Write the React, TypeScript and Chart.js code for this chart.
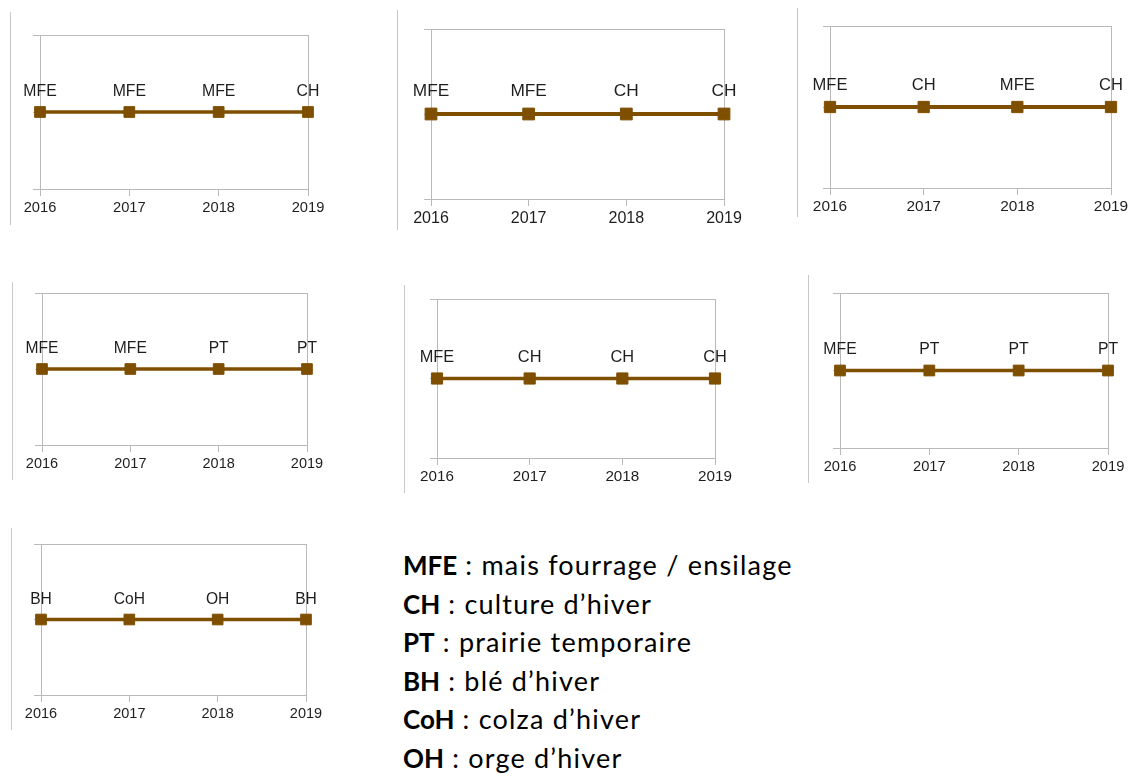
import React, { useEffect, useRef } from 'react';
import { Chart, registerables } from 'chart.js';

Chart.register(...registerables);

// ---------- data ----------
const YEARS = ['2016', '2017', '2018', '2019'];
const LEVEL = [1, 1, 1, 1];
const Y_MIN = 0;
const Y_MAX = 2;

const CROPS_A = ['MFE', 'MFE', 'MFE', 'CH'];
const CROPS_B = ['MFE', 'MFE', 'CH', 'CH'];
const CROPS_C = ['MFE', 'CH', 'MFE', 'CH'];
const CROPS_D = ['MFE', 'MFE', 'PT', 'PT'];
const CROPS_E = ['MFE', 'CH', 'CH', 'CH'];
const CROPS_F = ['MFE', 'PT', 'PT', 'PT'];
const CROPS_G = ['BH', 'CoH', 'OH', 'BH'];

const LEGEND_CODES = ['MFE', 'CH', 'PT', 'BH', 'CoH', 'OH'];
const LEGEND_NAMES = [
  'mais fourrage / ensilage',
  'culture d’hiver',
  'prairie temporaire',
  'blé d’hiver',
  'colza d’hiver',
  'orge d’hiver',
];

// ---------- layout / style ----------
const BROWN = '#7f4f00';
const GRID = '#b9b9b9';
const FRAME = '#c8c8c8';
const TEXT = '#1e1e1e';
const FONT = '"Liberation Sans", Arial, sans-serif';
const BASE_W = 268;
const PADL = 32;
const PADT = 12;
const PADR = 32;
const PADB = 40;
const XH = 30;

type Box = { l: number; r: number; t: number; b: number };
type PanelDef = { crops: string[]; frame: { x: number; y1: number; y2: number }; plot: Box };

const PANELS: PanelDef[] = [
  { crops: CROPS_A, frame: { x: 10, y1: 12, y2: 225 }, plot: { l: 40, r: 308, t: 35, b: 189 } },
  { crops: CROPS_B, frame: { x: 397, y1: 10, y2: 230 }, plot: { l: 431, r: 724, t: 29, b: 199 } },
  { crops: CROPS_C, frame: { x: 797, y1: 8, y2: 217 }, plot: { l: 830, r: 1111, t: 26, b: 188 } },
  { crops: CROPS_D, frame: { x: 12, y1: 282, y2: 480 }, plot: { l: 42, r: 307, t: 293, b: 445 } },
  { crops: CROPS_E, frame: { x: 404, y1: 285, y2: 493 }, plot: { l: 437, r: 715, t: 299, b: 458 } },
  { crops: CROPS_F, frame: { x: 808, y1: 275, y2: 483 }, plot: { l: 840, r: 1108, t: 293, b: 448 } },
  { crops: CROPS_G, frame: { x: 11, y1: 528, y2: 730 }, plot: { l: 41, r: 306, t: 544, b: 695 } },
];

function labelPlugin(crops: string[], s: number) {
  return {
    id: 'cropLabels',
    afterDatasetsDraw(chart: any) {
      const meta = chart.getDatasetMeta(0);
      const ctx = chart.ctx;
      ctx.save();
      ctx.font = `${15.8 * s}px ${FONT}`;
      ctx.fillStyle = TEXT;
      ctx.textAlign = 'center';
      ctx.textBaseline = 'middle';
      meta.data.forEach((pt: any, i: number) => {
        ctx.fillText(crops[i], pt.x, pt.y - 20.5 * s);
      });
      ctx.restore();
    },
  };
}

function Panel({ p }: { p: PanelDef }) {
  const ref = useRef<HTMLCanvasElement>(null);
  const w = p.plot.r - p.plot.l + PADL + PADR;
  const h = p.plot.b - p.plot.t + PADT + PADB;
  useEffect(() => {
    const s = (p.plot.r - p.plot.l) / BASE_W;
    const tick = 7;
    const last = YEARS.length - 1;
    const chart = new Chart(ref.current as HTMLCanvasElement, {
      type: 'line',
      data: {
        labels: YEARS,
        datasets: [
          {
            data: LEVEL,
            borderColor: BROWN,
            backgroundColor: BROWN,
            borderWidth: 3.6 * s,
            pointStyle: 'rect',
            pointRadius: 7.6 * s,
            pointHoverRadius: 7.6 * s,
            pointBorderWidth: 1,
            pointBackgroundColor: BROWN,
            pointBorderColor: BROWN,
            clip: false as any,
            tension: 0,
          },
        ],
      },
      options: {
        responsive: false,
        maintainAspectRatio: false,
        animation: false,
        devicePixelRatio: 1,
        events: [],
        layout: { padding: { left: PADL - tick, top: PADT, right: PADR, bottom: PADB - XH } },
        plugins: { legend: { display: false }, tooltip: { enabled: false }, title: { display: false } },
        scales: {
          x: {
            type: 'category',
            offset: false,
            grid: {
              color: (c: any) => (c.index === 0 || c.index === last ? GRID : 'rgba(0,0,0,0)'),
              lineWidth: 1,
              drawTicks: true,
              tickLength: tick,
              tickColor: GRID,
            },
            border: { display: true, color: GRID, width: 1 },
            ticks: {
              color: TEXT,
              font: { size: 14.7 * s, family: FONT },
              padding: 3,
              maxRotation: 0,
              autoSkip: false,
            },
            afterFit: (sc: any) => {
              sc.height = XH;
            },
          },
          y: {
            min: Y_MIN,
            max: Y_MAX,
            ticks: { stepSize: 1, display: false },
            grid: {
              color: (c: any) => (c.tick && c.tick.value === 1 ? 'rgba(0,0,0,0)' : GRID),
              tickColor: GRID,
              lineWidth: 1,
              drawTicks: true,
              tickLength: tick,
            },
            border: { display: true, color: GRID, width: 1 },
            afterFit: (sc: any) => {
              sc.width = tick;
            },
          },
        },
      },
      plugins: [labelPlugin(p.crops, s)],
    });
    return () => chart.destroy();
  }, []);
  return (
    <>
      <div
        style={{
          position: 'absolute',
          left: p.frame.x,
          top: p.frame.y1,
          width: 1,
          height: p.frame.y2 - p.frame.y1,
          background: FRAME,
        }}
      />
      <canvas
        ref={ref}
        width={w}
        height={h}
        style={{ position: 'absolute', left: p.plot.l - PADL, top: p.plot.t - PADT, width: w, height: h }}
      />
    </>
  );
}

export default function App() {
  return (
    <div
      style={{
        position: 'absolute',
        left: 0,
        top: 0,
        width: 1129,
        height: 778,
        overflow: 'hidden',
        background: '#ffffff',
      }}
    >
      {PANELS.map((p, i) => (
        <Panel key={i} p={p} />
      ))}
      <div
        style={{
          position: 'absolute',
          left: 403,
          top: 546,
          fontFamily: 'Lato, "Open Sans", sans-serif',
          fontSize: 26,
          lineHeight: '38.6px',
          color: '#000',
          whiteSpace: 'nowrap',
        }}
      >
        {LEGEND_CODES.map((c, i) => (
          <div key={c} style={{ height: 38.6 }}>
            <b style={{ fontWeight: 700 }}>{c}</b>
            <span style={{ fontSize: 27, letterSpacing: '1.2px' }}> : {LEGEND_NAMES[i]}</span>
          </div>
        ))}
      </div>
    </div>
  );
}
